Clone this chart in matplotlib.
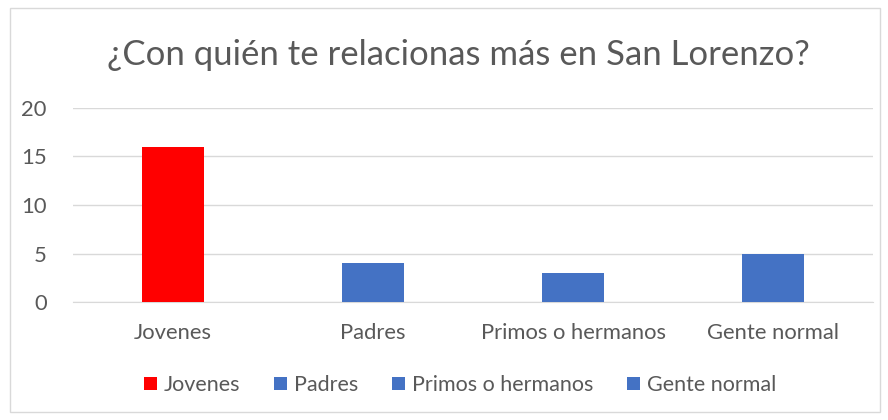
import matplotlib
matplotlib.use("Agg")
import matplotlib.pyplot as plt
from matplotlib.patches import Patch, Rectangle

# ── data ──────────────────────────────────────────────────────────────
categories = ["Jovenes", "Padres", "Primos o hermanos", "Gente normal"]
values = [16, 4, 3, 5]
colors = ["#ff0000", "#4472c4", "#4472c4", "#4472c4"]
title = "¿Con quién te relacionas más en San Lorenzo?"

TXT = "#595959"
plt.rcParams["font.family"] = ["Lato", "DejaVu Sans"]

fig = plt.figure(figsize=(8.88, 4.2), dpi=100)
ax = fig.add_axes([73 / 888, 1 - 302 / 420, 800 / 888, 194 / 420])

# chart border
fig.patches.append(Rectangle((10 / 888, 8 / 420), 870 / 888, 404 / 420,
                             transform=fig.transFigure, fill=False,
                             edgecolor="#d9d9d9", linewidth=1))

x = range(len(categories))
ax.bar(x, values, width=0.31, color=colors, zorder=3)

ax.set_xlim(-0.5, len(categories) - 0.5)
ax.set_ylim(0, 20)
ax.set_yticks([0, 5, 10, 15, 20])
ax.set_xticks(list(x))
ax.set_xticklabels(categories)
ax.yaxis.grid(True, color="#d9d9d9", linewidth=1, zorder=0)
for s in ["top", "right", "left"]:
    ax.spines[s].set_visible(False)
ax.spines["bottom"].set_color("#d9d9d9")
ax.tick_params(length=0, labelsize=15.8, labelcolor=TXT)
ax.tick_params(axis="x", pad=15)
ax.tick_params(axis="y", pad=19)

fig.text(458 / 888, 1 - 55 / 420, title, ha="center", va="center",
         fontsize=25, color=TXT)

handles = [Patch(facecolor=c) for c in colors]
fig.legend(handles, categories, loc="center", bbox_to_anchor=(460 / 888, 1 - 385 / 420),
           ncol=4, frameon=False, fontsize=15.5, labelcolor=TXT,
           handlelength=0.6, handleheight=0.6, handletextpad=0.3,
           columnspacing=1.6)

fig.savefig("out.png", dpi=100, facecolor="white")
